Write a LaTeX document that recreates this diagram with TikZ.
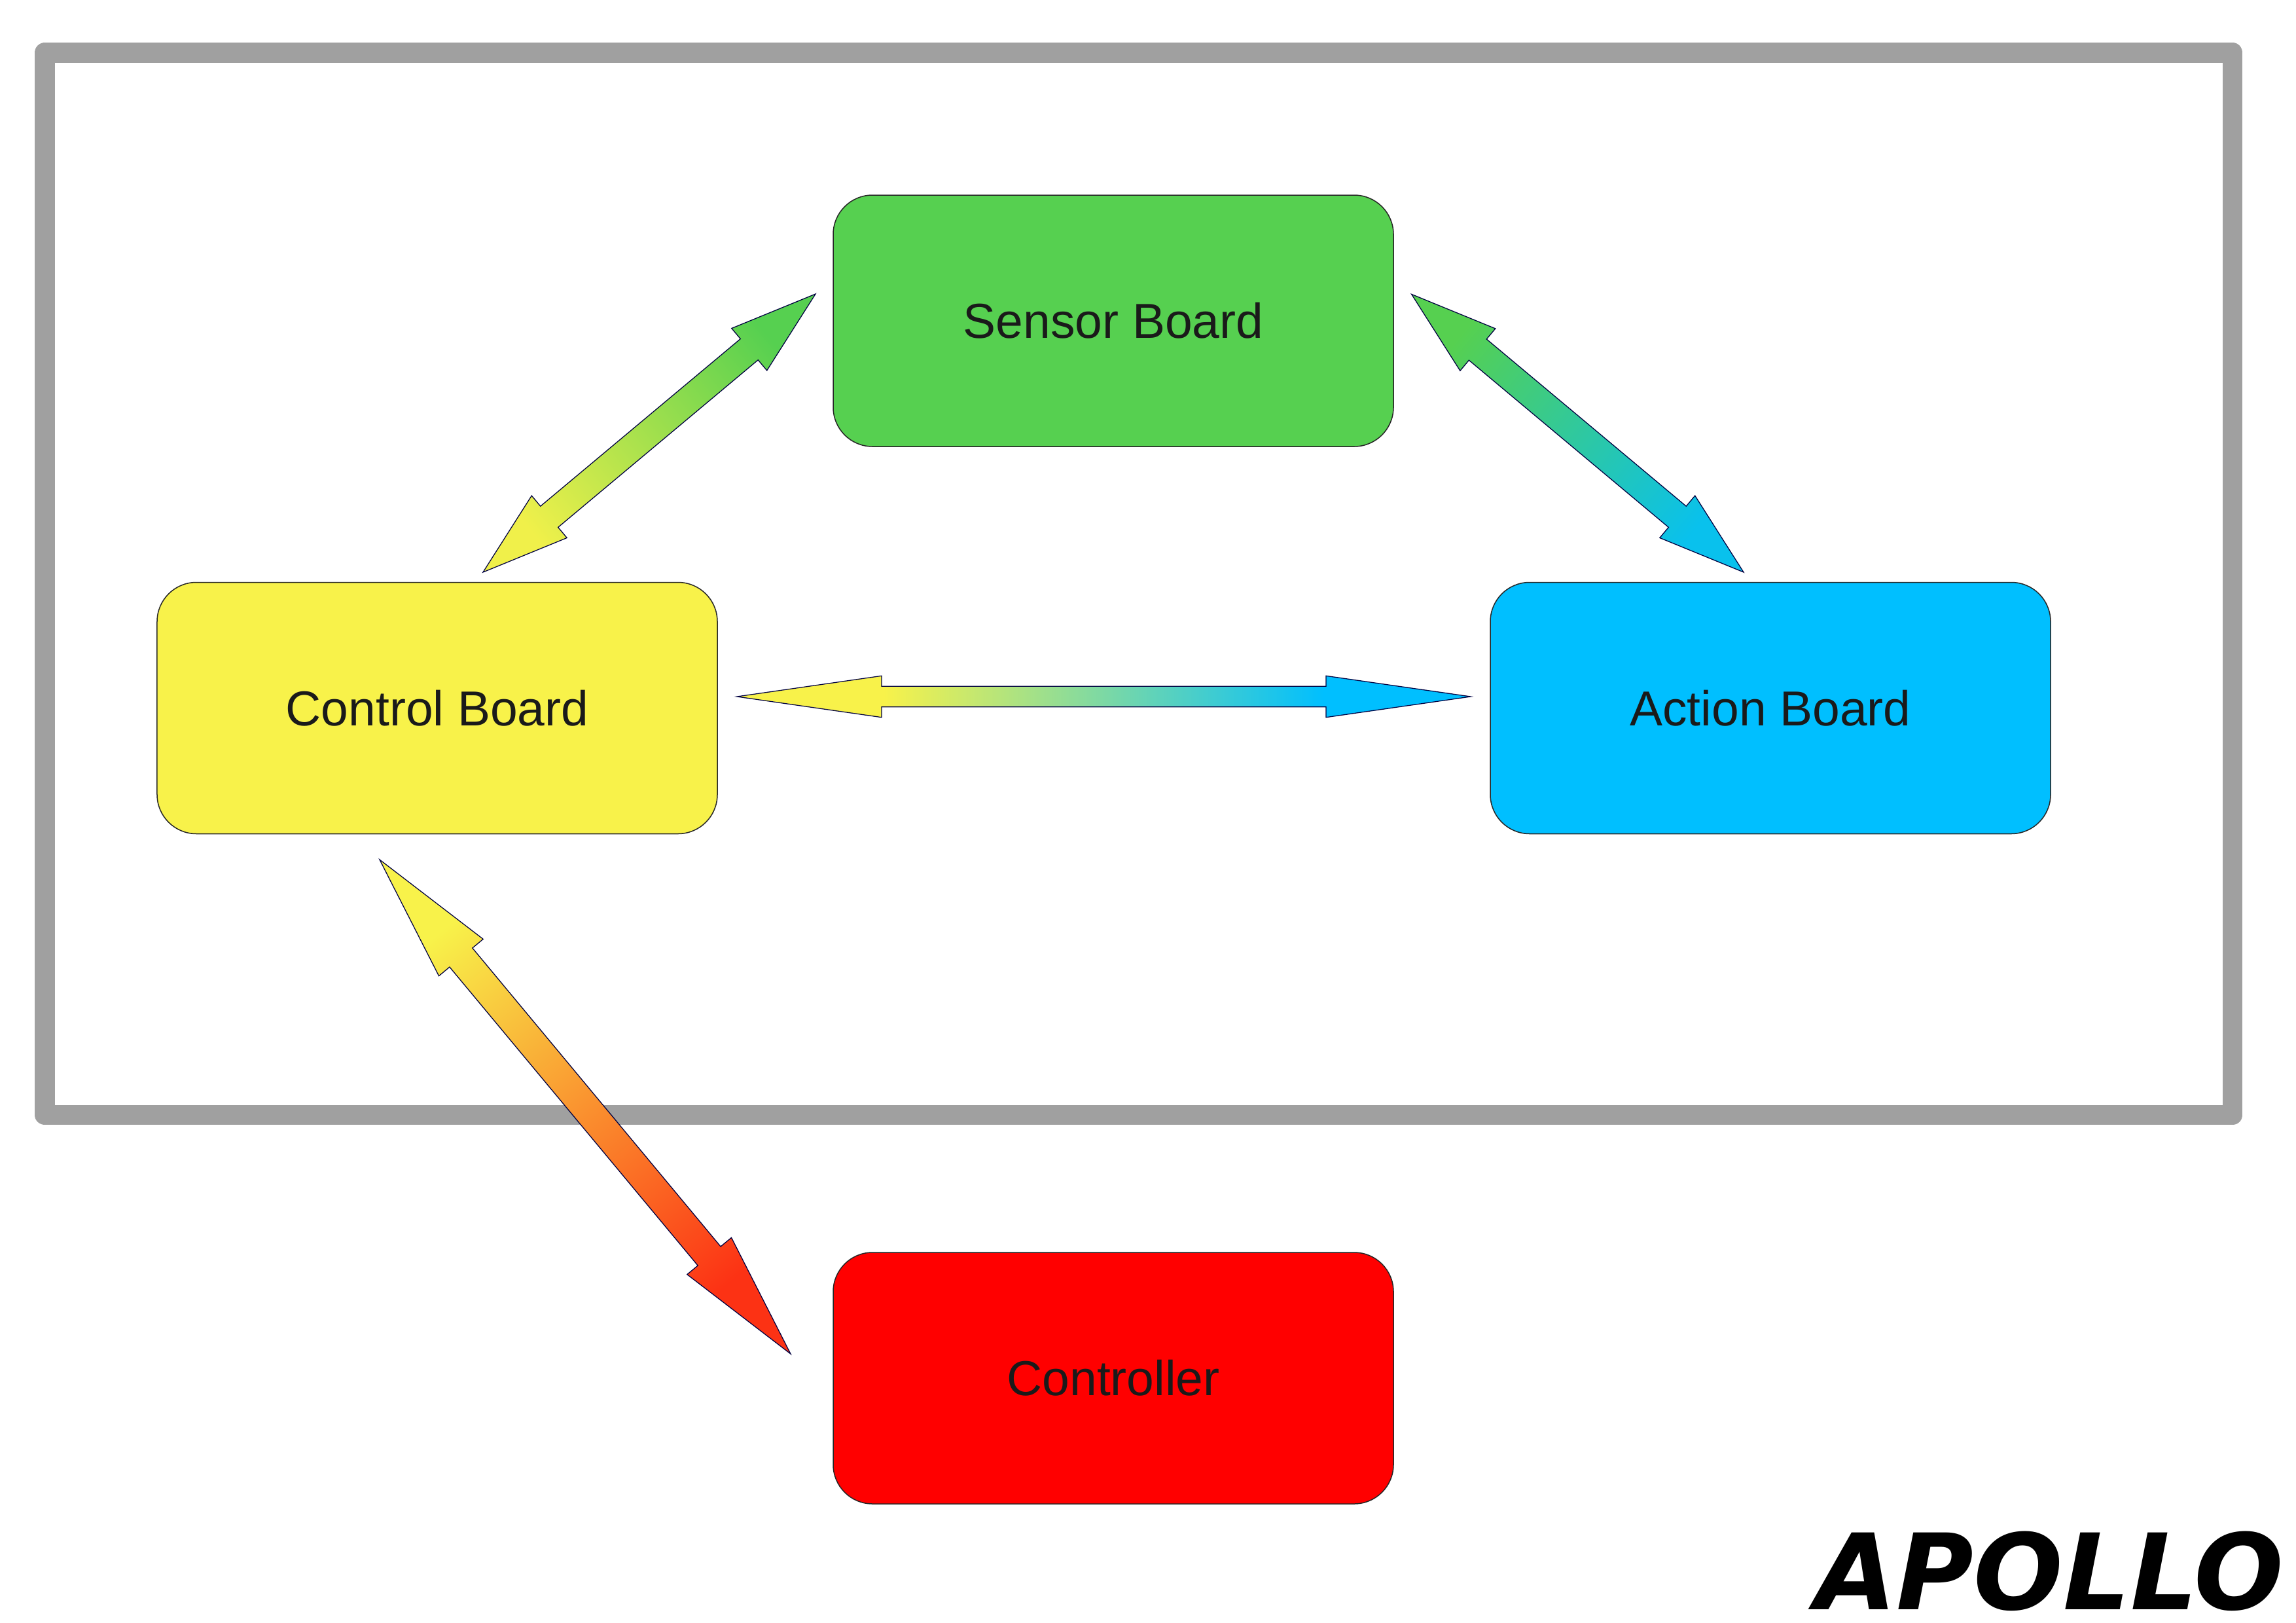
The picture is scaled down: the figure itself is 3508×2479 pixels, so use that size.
\documentclass[tikz,border=0pt]{standalone}
\usepackage{fontspec}
\setmainfont{Liberation Sans}
\newfontfamily\logofont{DejaVu Sans}
\usetikzlibrary{calc}

\definecolor{framegray}{RGB}{160,160,160}
\definecolor{sensorgreen}{RGB}{86,208,80}
\definecolor{controlyellow}{RGB}{248,242,74}
\definecolor{actioncyan}{RGB}{0,191,255}
\definecolor{controllerred}{RGB}{255,0,0}
\definecolor{arrowred}{RGB}{252,50,20}
\definecolor{labelgray}{RGB}{26,26,26}

% ramp only along the shaft of the flat link
\pgfdeclarehorizontalshading{yellowcyan}{100bp}{color(0bp)=(controlyellow); color(35bp)=(controlyellow);
  color(65bp)=(actioncyan); color(100bp)=(actioncyan)}

\tikzset{
  board/.style={draw=black!85, line width=0.3pt, rounded corners=12pt,
    minimum width=171.2pt, minimum height=76.8pt, inner sep=0pt,
    text=labelgray, font=\fontsize{15}{18}\selectfont},
  fatarrow/.style={draw=black!75!blue, line width=0.25pt, line join=miter},
  frame/.style={draw=framegray, line width=6.14pt, line join=round},
}

% block arrow with two heads: tips #1 and #2, head length #3, head half width #4, shaft half width #5
\newcommand{\fatarrow}[6]{%
  \shade[fatarrow,#6] (#1)
    -- ($(#1)!#3!(#2)!#4!90:(#2)$) -- ($(#1)!#3!(#2)!#5!90:(#2)$)
    -- ($(#2)!#3!(#1)!#5!-90:(#1)$) -- ($(#2)!#3!(#1)!#4!-90:(#1)$)
    -- (#2)
    -- ($(#2)!#3!(#1)!#4!90:(#1)$) -- ($(#2)!#3!(#1)!#5!90:(#1)$)
    -- ($(#1)!#3!(#2)!#5!-90:(#2)$) -- ($(#1)!#3!(#2)!#4!-90:(#2)$)
    -- cycle;}

\begin{document}
\begin{tikzpicture}[x=0.2pt,y=0.2pt]
\useasboundingbox (0,0) rectangle (3508,-2479);

% outer frame
\draw [frame] (68.5,-80.5) rectangle (3411,-1703);

% boards
\node [board, fill=sensorgreen] (sensor) at (1701,-490) {Sensor Board};
\node [board, fill=controlyellow] (control) at (668,-1081.5) {Control Board};
\node [board, fill=actioncyan] (action) at (2705,-1081.5) {Action Board};
\node [board, fill=controllerred] (controller) at (1701,-2105) {Controller};

% arrow tips
\coordinate (cs) at (738,-874);
\coordinate (sc) at (1246,-449);
\coordinate (sa) at (2156.6,-449.4);
\coordinate (as) at (2664,-874);
\coordinate (ca) at (1126,-1064);
\coordinate (ac) at (2247,-1064);
\coordinate (ck) at (580,-1313);
\coordinate (kc) at (1208,-2068);

% links
\fatarrow{cs}{sc}{26.4pt}{8.4pt}{4.2pt}{left color=controlyellow!95!sensorgreen, right color=sensorgreen, shading angle=129.9}
\fatarrow{sa}{as}{26.4pt}{8.4pt}{4.2pt}{left color=sensorgreen, right color=actioncyan!90!sensorgreen, shading angle=50.1}
\fatarrow{ca}{ac}{44.2pt}{6.34pt}{3.14pt}{shading=yellowcyan, shading angle=0}
\fatarrow{ck}{kc}{38.9pt}{8.8pt}{4.54pt}{left color=controlyellow, right color=arrowred, shading angle=39.75}

\node [anchor=base east, inner sep=0pt, font=\logofont\bfseries\itshape\fontsize{32.2}{36}\selectfont] (logo) at (3490,-2458) {APOLLO};

\end{tikzpicture}
\end{document}
